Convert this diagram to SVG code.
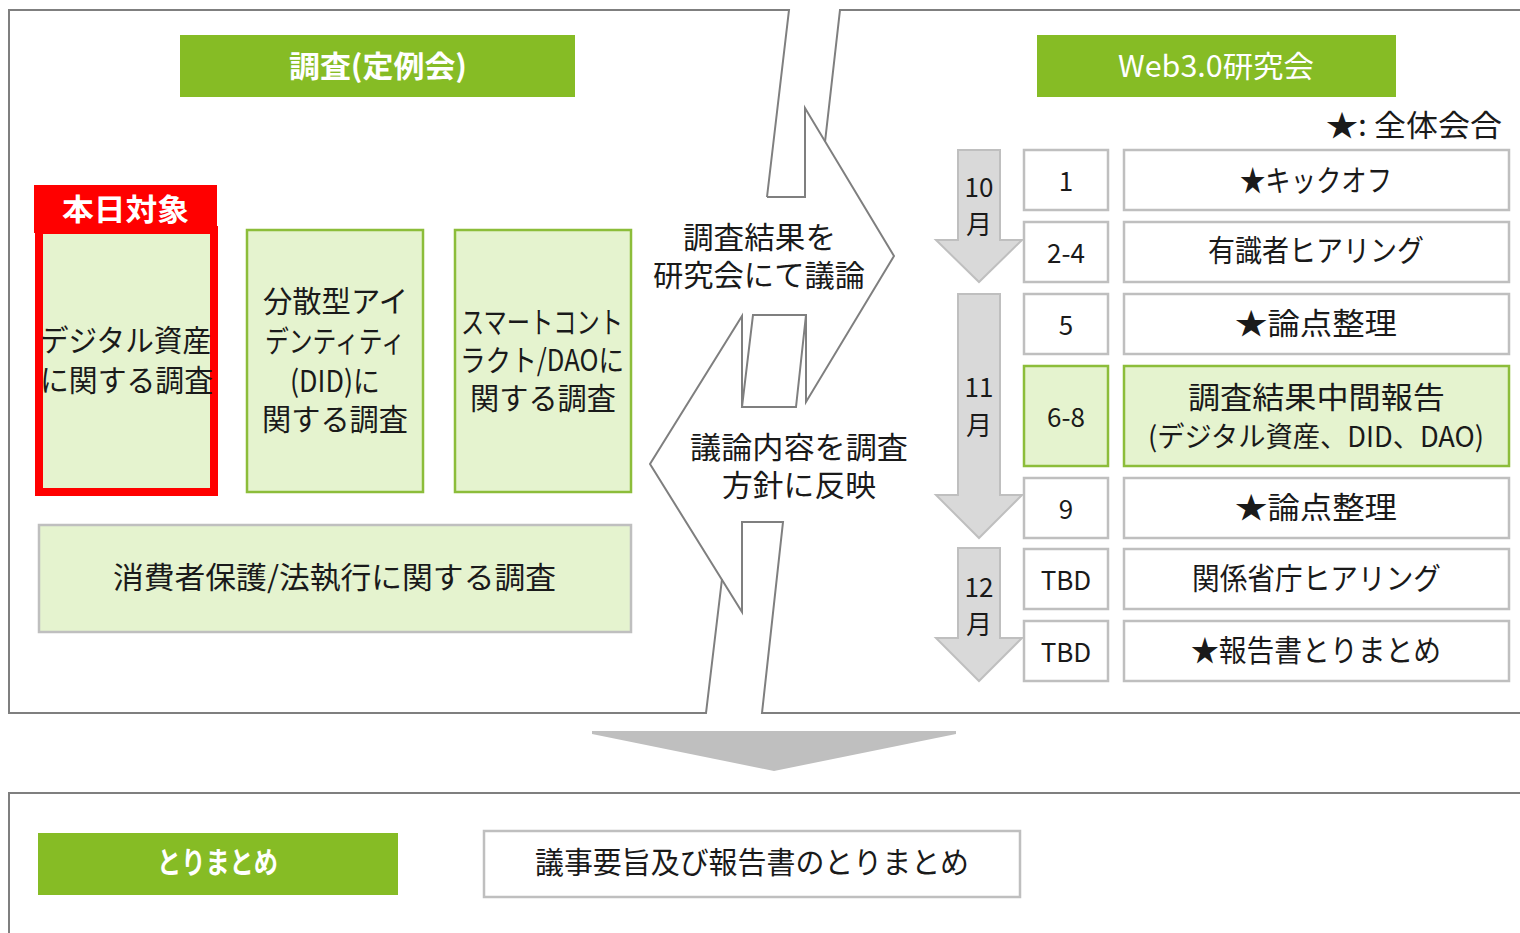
<svg xmlns="http://www.w3.org/2000/svg" width="1520" height="933" viewBox="0 0 1520 933">
<style>
text{font-family:"Noto Sans CJK JP","Noto Sans",sans-serif;dominant-baseline:central;text-anchor:middle;fill:#1a1a1a}
.t{font-size:30px}
.s{font-size:28px}
.n{font-size:26px}
.w{fill:#ffffff}
.b{font-weight:bold}
.frame{fill:none;stroke:#7f7f7f;stroke-width:2;stroke-linejoin:miter}
.hdr{fill:#86bc25}
.lg{fill:#e5f3cf;stroke:#8cbd3a;stroke-width:2.5}
.gb{fill:#ffffff;stroke:#bfbfbf;stroke-width:2.5}
.lgb{fill:#e5f3cf;stroke:#bfbfbf;stroke-width:2.5}
.mon{fill:#d9d9d9;stroke:#bfbfbf;stroke-width:2}
</style>
<rect width="1520" height="933" fill="#ffffff"/>

<g id="connectors">
  <path class="frame" d="M767,197 L789,10 L9,10 L9,713 L706,713 L722,579"/>
  <path class="frame" d="M767,197 L805,197 L805,108 L894,256 L806,402 L806,315 L753,315 L742,407 L796,407 L806,315"/>
  <path class="frame" d="M825,142 L840,10 L1522,10"/>
  <path class="frame" d="M1522,713 L762,713 L783,522 L742,522 L742,612 L650,464 L742,316 L742,407"/>
  <path class="frame" d="M9,935 L9,793 L1522,793"/>
  <polygon points="592,731 956,731 956,734 774,771 592,734" fill="#bfbfbf"/>
</g>

<g id="arrow-right-label">
  <text class="t" x="759.5" y="235" textLength="153" lengthAdjust="spacingAndGlyphs">調査結果を</text>
  <text class="t" x="759" y="273" textLength="212" lengthAdjust="spacingAndGlyphs">研究会にて議論</text>
</g>
<g id="arrow-left-label">
  <text class="t" x="799" y="445" textLength="218" lengthAdjust="spacingAndGlyphs">議論内容を調査</text>
  <text class="t" x="799" y="483" textLength="154" lengthAdjust="spacingAndGlyphs">方針に反映</text>
</g>

<g id="hdr-survey">
  <rect class="hdr" x="180" y="35" width="395" height="62"/>
  <text class="t w b" x="378" y="64" textLength="178" lengthAdjust="spacingAndGlyphs">調査(定例会)</text>
</g>

<g id="node-digital">
  <rect x="39" y="230" width="175" height="262" fill="#e5f3cf" stroke="#ff0000" stroke-width="8"/>
  <text class="t" x="125.5" y="338" textLength="171" lengthAdjust="spacingAndGlyphs">デジタル資産</text>
  <text class="t" x="126.5" y="378" textLength="173" lengthAdjust="spacingAndGlyphs">に関する調査</text>
</g>
<g id="label-today">
  <rect x="34" y="185" width="183" height="48" fill="#ff0000"/>
  <text class="t w b" x="125.5" y="207" textLength="127" lengthAdjust="spacingAndGlyphs">本日対象</text>
</g>

<g id="node-did">
  <rect class="lg" x="247" y="230" width="176" height="262"/>
  <text class="t" x="335.5" y="299" textLength="145" lengthAdjust="spacingAndGlyphs">分散型アイ</text>
  <text class="t" x="335" y="339" textLength="140" lengthAdjust="spacingAndGlyphs">デンティティ</text>
  <text class="t" x="335" y="379" textLength="90" lengthAdjust="spacingAndGlyphs">(DID)に</text>
  <text class="t" x="335" y="417" textLength="146" lengthAdjust="spacingAndGlyphs">関する調査</text>
</g>

<g id="node-dao">
  <rect class="lg" x="455" y="230" width="176" height="262"/>
  <text class="t" x="542" y="320" textLength="162" lengthAdjust="spacingAndGlyphs">スマートコント</text>
  <text class="t" x="542" y="358" textLength="164" lengthAdjust="spacingAndGlyphs">ラクト/DAOに</text>
  <text class="t" x="543" y="396" textLength="146" lengthAdjust="spacingAndGlyphs">関する調査</text>
</g>

<g id="node-consumer">
  <rect class="lgb" x="39" y="525" width="592" height="107"/>
  <text class="t" x="334.5" y="575" textLength="443" lengthAdjust="spacingAndGlyphs">消費者保護/法執行に関する調査</text>
</g>

<g id="hdr-web3">
  <rect class="hdr" x="1037" y="35" width="359" height="62"/>
  <text class="t w" x="1216" y="64" textLength="196" lengthAdjust="spacingAndGlyphs">Web3.0研究会</text>
</g>
<g id="legend">
  <text class="t" x="1414" y="123" textLength="176" lengthAdjust="spacingAndGlyphs">★: 全体会合</text>
</g>

<g id="month-10">
  <polygon class="mon" points="958,150 1000,150 1000,240 1022,240 979,282 936,240 958,240"/>
  <text class="n" x="979" y="185">10</text>
  <text class="n" x="979" y="222">月</text>
</g>
<g id="month-11">
  <polygon class="mon" points="958,294 1000,294 1000,495 1022,495 979,538 936,495 958,495"/>
  <text class="n" x="979" y="385">11</text>
  <text class="n" x="979" y="423">月</text>
</g>
<g id="month-12">
  <polygon class="mon" points="958,548 1000,548 1000,638 1022,638 979,681 936,638 958,638"/>
  <text class="n" x="979" y="585">12</text>
  <text class="n" x="979" y="622">月</text>
</g>

<g id="row-1">
  <rect class="gb" x="1024" y="150" width="84" height="60"/>
  <text class="n" x="1066" y="179">1</text>
  <rect class="gb" x="1124" y="150" width="385" height="60"/>
  <text class="t" x="1316" y="178" textLength="152" lengthAdjust="spacingAndGlyphs">★キックオフ</text>
</g>
<g id="row-2">
  <rect class="gb" x="1024" y="222" width="84" height="60"/>
  <text class="n" x="1066" y="251">2-4</text>
  <rect class="gb" x="1124" y="222" width="385" height="60"/>
  <text class="t" x="1316" y="248" textLength="216" lengthAdjust="spacingAndGlyphs">有識者ヒアリング</text>
</g>
<g id="row-3">
  <rect class="gb" x="1024" y="294" width="84" height="60"/>
  <text class="n" x="1066" y="323">5</text>
  <rect class="gb" x="1124" y="294" width="385" height="60"/>
  <text class="t" x="1316" y="321" textLength="162" lengthAdjust="spacingAndGlyphs">★論点整理</text>
</g>
<g id="row-4">
  <rect class="lg" x="1024" y="366" width="84" height="100"/>
  <text class="n" x="1066" y="415">6-8</text>
  <rect class="lg" x="1124" y="366" width="385" height="100"/>
  <text class="t" x="1316.5" y="395" textLength="257" lengthAdjust="spacingAndGlyphs">調査結果中間報告</text>
  <text class="s" x="1316" y="435" textLength="336" lengthAdjust="spacingAndGlyphs">(デジタル資産、DID、DAO)</text>
</g>
<g id="row-5">
  <rect class="gb" x="1024" y="478" width="84" height="60"/>
  <text class="n" x="1066" y="507">9</text>
  <rect class="gb" x="1124" y="478" width="385" height="60"/>
  <text class="t" x="1316" y="505" textLength="162" lengthAdjust="spacingAndGlyphs">★論点整理</text>
</g>
<g id="row-6">
  <rect class="gb" x="1024" y="549" width="84" height="60"/>
  <text class="n" x="1066" y="578">TBD</text>
  <rect class="gb" x="1124" y="549" width="385" height="60"/>
  <text class="t" x="1316.5" y="576" textLength="249" lengthAdjust="spacingAndGlyphs">関係省庁ヒアリング</text>
</g>
<g id="row-7">
  <rect class="gb" x="1024" y="621" width="84" height="60"/>
  <text class="n" x="1066" y="650">TBD</text>
  <rect class="gb" x="1124" y="621" width="385" height="60"/>
  <text class="t" x="1316" y="648" textLength="250" lengthAdjust="spacingAndGlyphs">★報告書とりまとめ</text>
</g>

<g id="hdr-summary">
  <rect class="hdr" x="38" y="833" width="360" height="62"/>
  <text class="t w b" x="217.5" y="860" textLength="121" lengthAdjust="spacingAndGlyphs">とりまとめ</text>
</g>
<g id="node-summary">
  <rect class="gb" x="484" y="831" width="536" height="66"/>
  <text class="t" x="752" y="860" textLength="434" lengthAdjust="spacingAndGlyphs">議事要旨及び報告書のとりまとめ</text>
</g>
</svg>
